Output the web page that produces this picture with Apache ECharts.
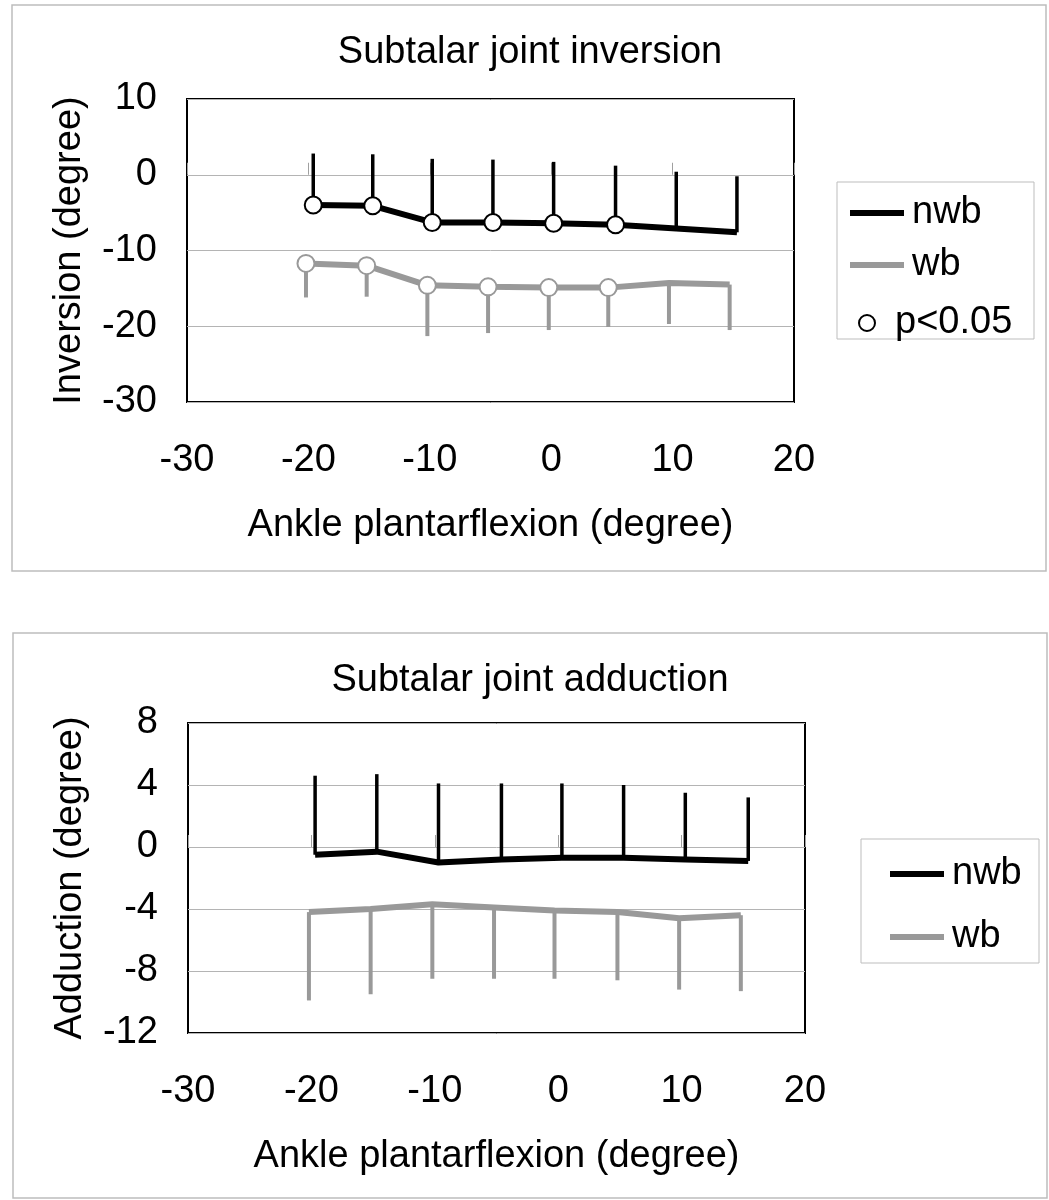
<!DOCTYPE html>
<html>
<head>
<meta charset="utf-8">
<script src="https://cdn.jsdelivr.net/npm/echarts@6/dist/echarts.min.js"></script>
<style>
html,body{margin:0;padding:0;background:#fff;}
#chart{width:1049px;height:1200px;}
</style>
</head>
<body>
<div id="chart"></div>
<script>
// ---- Data ----
var xTicks = [-30, -20, -10, 0, 10, 20];

// Top chart: Subtalar joint inversion
var invNwbX    = [-19.6, -14.7, -9.8, -4.8, 0.2, 5.3, 10.3, 15.3];
var invNwbMean = [-4.0, -4.1, -6.3, -6.3, -6.4, -6.6, -7.1, -7.6];
var invNwbSD   = [6.8, 6.8, 8.4, 8.3, 8.1, 7.8, 7.5, 7.4];
var invWbX     = [-20.2, -15.2, -10.2, -5.2, -0.2, 4.7, 9.7, 14.7];
var invWbMean  = [-11.7, -12.0, -14.6, -14.8, -14.9, -14.9, -14.3, -14.5];
var invWbSD    = [4.5, 4.1, 6.7, 6.1, 5.6, 5.2, 5.4, 6.0];
var invSig     = [1, 1, 1, 1, 1, 1, 0, 0];

// Bottom chart: Subtalar joint adduction
var addNwbX    = [-19.7, -14.7, -9.7, -4.6, 0.3, 5.3, 10.3, 15.4];
var addNwbMean = [-0.5, -0.3, -1.0, -0.8, -0.7, -0.7, -0.8, -0.9];
var addNwbSD   = [5.1, 5.0, 5.1, 4.9, 4.8, 4.7, 4.3, 4.1];
var addWbX     = [-20.2, -15.2, -10.2, -5.2, -0.3, 4.8, 9.8, 14.8];
var addWbMean  = [-4.2, -4.0, -3.7, -3.9, -4.1, -4.2, -4.6, -4.4];
var addWbSD    = [5.7, 5.5, 4.8, 4.6, 4.4, 4.4, 4.6, 4.9];

var titles = ['Subtalar joint inversion', 'Subtalar joint adduction'];
var yNames = ['Inversion (degree)', 'Adduction (degree)'];
var xName = 'Ankle plantarflexion (degree)';

// ---- Styling ----
var FONT = '"Liberation Sans", Arial, sans-serif';
var FS = 38;
var BLACK = '#000000';
var GRAY = '#999999';

function pairs(xs, ys) { return xs.map(function (x, i) { return [x, ys[i]]; }); }
function sigPairs(xs, ys, flags) {
  var out = [];
  xs.forEach(function (x, i) { if (flags[i]) out.push([x, ys[i]]); });
  return out;
}
function lineSeries(name, xs, ys, color, g) {
  return {
    type: 'line', name: name, xAxisIndex: g, yAxisIndex: g,
    data: pairs(xs, ys), showSymbol: false, symbol: 'none',
    color: color, itemStyle: { color: color },
    lineStyle: { color: color, width: 6 }, z: 3, silent: true
  };
}
function errSeries(name, xs, means, sds, dir, color, width, g) {
  return {
    type: 'custom', name: name, xAxisIndex: g, yAxisIndex: g,
    color: color, itemStyle: { color: color },
    data: xs.map(function (x, i) { return [x, means[i], means[i] + dir * sds[i]]; }),
    renderItem: function (params, api) {
      var a = api.coord([api.value(0), api.value(1)]);
      var b = api.coord([api.value(0), api.value(2)]);
      return { type: 'line', shape: { x1: a[0], y1: a[1], x2: b[0], y2: b[1] },
        style: { stroke: color, lineWidth: width } };
    },
    z: 2, silent: true
  };
}
function sigSeries(xs, ys, flags, border, g) {
  return {
    type: 'scatter', name: 'p<0.05', xAxisIndex: g, yAxisIndex: g,
    data: sigPairs(xs, ys, flags), symbol: 'circle', symbolSize: 17,
    itemStyle: { color: '#ffffff', borderColor: border, borderWidth: 2, opacity: 1 },
    z: 5, silent: true
  };
}
function xAxis(g) {
  return {
    type: 'value', gridIndex: g, min: -30, max: 20, interval: 10,
    axisLine: { show: false },
    axisTick: { show: true, inside: true, length: 12, lineStyle: { color: '#a0a0a0', width: 1 } },
    splitLine: { show: false },
    axisLabel: { color: BLACK, fontSize: FS, fontFamily: FONT, margin: 40 },
    name: xName, nameLocation: 'middle', nameGap: 105,
    nameTextStyle: { color: BLACK, fontSize: FS, fontFamily: FONT }
  };
}
function yAxis(g, min, max, step, name) {
  return {
    type: 'value', gridIndex: g, min: min, max: max, interval: step,
    axisLine: { show: false }, axisTick: { show: false },
    splitLine: { show: true, lineStyle: { color: '#b4b4b4', width: 1 } },
    axisLabel: { color: BLACK, fontSize: FS, fontFamily: FONT, margin: 30, padding: [8, 0, 0, 0] },
    name: name, nameLocation: 'middle', nameGap: 98,
    nameTextStyle: { color: BLACK, fontSize: FS, fontFamily: FONT }
  };
}
function legendText(padLeft) {
  return { color: BLACK, fontSize: FS, fontFamily: FONT, lineHeight: 40, padding: [6, 0, 0, padLeft] };
}

var option = {
  animation: false,
  backgroundColor: '#ffffff',
  grid: [
    { left: 187, top: 99, width: 607, height: 303, show: true, borderColor: BLACK, borderWidth: 2, backgroundColor: 'transparent' },
    { left: 188, top: 723, width: 617, height: 310, show: true, borderColor: BLACK, borderWidth: 2, backgroundColor: 'transparent' }
  ],
  xAxis: [xAxis(0), xAxis(1)],
  yAxis: [yAxis(0, -30, 10, 10, yNames[0]), yAxis(1, -12, 8, 4, yNames[1])],
  legend: [
    { left: 845, top: 185, orient: 'vertical', data: ['nwb', 'wb'], icon: 'rect',
      itemWidth: 54, itemHeight: 6, itemGap: 6, selectedMode: false, textStyle: legendText(3) },
    { left: 853, top: 295, orient: 'vertical', data: ['p<0.05'], icon: 'circle',
      itemWidth: 36, itemHeight: 16, selectedMode: false, textStyle: legendText(5) },
    { left: 885, top: 846, orient: 'vertical', data: ['nwb', 'wb'], icon: 'rect',
      itemWidth: 54, itemHeight: 6, itemGap: 17, selectedMode: false, textStyle: legendText(3) }
  ],
  graphic: [
    { type: 'rect', shape: { x: 12, y: 5, width: 1034, height: 566 }, style: { fill: 'none', stroke: '#bdbdbd', lineWidth: 1.5 }, z: -10, silent: true },
    { type: 'rect', shape: { x: 13, y: 633, width: 1034, height: 565 }, style: { fill: 'none', stroke: '#bdbdbd', lineWidth: 1.5 }, z: -10, silent: true },
    { type: 'rect', shape: { x: 837, y: 182, width: 197, height: 157 }, style: { fill: 'none', stroke: '#bdbdbd', lineWidth: 1 }, z: -10, silent: true },
    { type: 'rect', shape: { x: 861, y: 839, width: 178, height: 124 }, style: { fill: 'none', stroke: '#bdbdbd', lineWidth: 1 }, z: -10, silent: true },
    { type: 'text', x: 530, y: 53, style: { text: titles[0], fill: BLACK, font: FS + 'px ' + FONT, textAlign: 'center', textVerticalAlign: 'middle' }, silent: true },
    { type: 'text', x: 530, y: 681, style: { text: titles[1], fill: BLACK, font: FS + 'px ' + FONT, textAlign: 'center', textVerticalAlign: 'middle' }, silent: true }
  ],
  series: [
    lineSeries('nwb', invNwbX, invNwbMean, BLACK, 0),
    lineSeries('wb', invWbX, invWbMean, GRAY, 0),
    lineSeries('nwb', addNwbX, addNwbMean, BLACK, 1),
    lineSeries('wb', addWbX, addWbMean, GRAY, 1),
    errSeries('nwb', invNwbX, invNwbMean, invNwbSD, 1, BLACK, 3.5, 0),
    errSeries('wb', invWbX, invWbMean, invWbSD, -1, GRAY, 4, 0),
    errSeries('nwb', addNwbX, addNwbMean, addNwbSD, 1, BLACK, 3.5, 1),
    errSeries('wb', addWbX, addWbMean, addWbSD, -1, GRAY, 4, 1),
    sigSeries(invNwbX, invNwbMean, invSig, BLACK, 0),
    sigSeries(invWbX, invWbMean, invSig, GRAY, 0)
  ]
};

var chart = echarts.init(document.getElementById('chart'), null, { renderer: 'canvas' });
chart.setOption(option);
</script>
</body>
</html>
